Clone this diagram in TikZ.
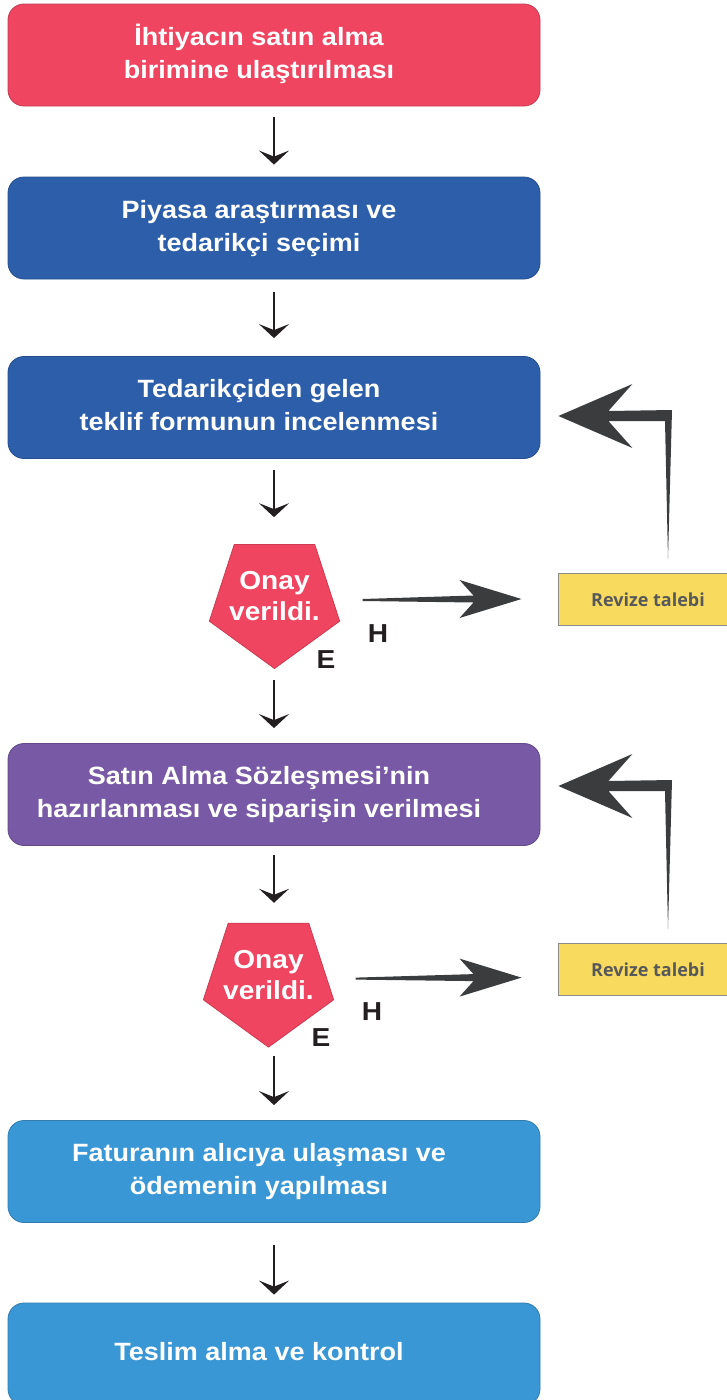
\documentclass[tikz,border=0pt]{standalone}
\usepackage{fontspec}
\setmainfont{Liberation Sans}[FakeStretch=1.08]
\newfontfamily\revfont{Open Sans}
\usetikzlibrary{positioning}
\usetikzlibrary{calc}
\usetikzlibrary{shapes.geometric}
\usetikzlibrary{arrows.meta}
\definecolor{kirmizi}{HTML}{EF4561}
\definecolor{lacivert}{HTML}{2D5EA9}
\definecolor{mor}{HTML}{7759A5}
\definecolor{acikmavi}{HTML}{3A97D5}
\definecolor{sari}{HTML}{F8DA5F}
\definecolor{yazigri}{HTML}{57585A}
\definecolor{koyu}{HTML}{231F20}
\definecolor{okgri}{HTML}{3A3C3E}
\tikzset{kutu/.style={draw=#1!82!black, line width=0.8pt, fill=#1, rounded corners=16pt,
    minimum width=532pt, minimum height=102pt, text=white,
    font=\bfseries\fontsize{25}{33}\selectfont}}
\tikzset{onay/.style={regular polygon, regular polygon sides=5, shape border rotate=180,
    minimum size=137pt, inner sep=0pt, fill=kirmizi, draw=kirmizi!85!black, line width=0.8pt}}
\tikzset{onayyazi/.style={text=white, align=center, inner sep=0pt,
    font=\bfseries\fontsize{26}{31}\selectfont}}
\tikzset{revize/.style={fill=sari, draw=black!45, line width=1pt, minimum width=180pt,
    minimum height=52pt, text=yazigri, font=\revfont\bfseries\fontsize{18}{20}\selectfont}}
\tikzset{harf/.style={text=koyu, font=\bfseries\fontsize{26}{26}\selectfont}}
\tikzset{ok/.style={draw=koyu, line width=2.2pt, -{Stealth[length=14pt,width=30pt,inset=6pt]}}}
% kutu yazisi biraz sola kayik
\newcommand{\yazi}[1]{\hspace*{-30pt}\begin{tabular}{@{}c@{}}#1\end{tabular}}
% kalin yatay ok: #1 baslangic, #2 uc
\newcommand{\yatayok}[2]{%
  \fill[okgri] ($(#1)+(0,-1)$) -- ($(#2)+(-48,-3.5)$) -- ($(#2)+(-62,-19)$) -- (#2)
    -- ($(#2)+(-62,19)$) -- ($(#2)+(-48,3.5)$) -- ($(#1)+(0,1)$) -- cycle;}
% geri donus oku: #1 kose, #2 uc, #3 alt
\newcommand{\geriok}[3]{%
  \fill[okgri] (#2) -- ($(#2)+(74,-32)$) -- ($(#2)+(50,-5)$) -- ($(#1)+(4,-6)$)
    -- (#3) -- ($(#1)+(-3,5)$) -- ($(#2)+(50,5)$) -- ($(#2)+(74,32)$) -- cycle;}

\begin{document}
\begin{tikzpicture}[x=1pt, y=-1pt]
\useasboundingbox (0,0) rectangle (727,1400);

\node[kutu=kirmizi] (ihtiyac) at (274,55) {\yazi{İhtiyacın satın alma\\ birimine ulaştırılması}};
\node[kutu=lacivert] (piyasa) at (274,228) {\yazi{Piyasa araştırması ve\\ tedarikçi seçimi}};
\node[kutu=lacivert] (teklif) at (274,407.5) {\yazi{Tedarikçiden gelen\\ teklif formunun incelenmesi}};
\node[onay] (onay1) at (274.5,600) {};
\node[onayyazi] (onay1y) at ($(onay1.center)+(0,-4)$) {Onay\\verildi.};
\node[kutu=mor] (sozlesme) at (274,794.5) {\yazi{Satın Alma Sözleşmesi’nin\\ hazırlanması ve siparişin verilmesi}};
\node[onay] (onay2) at (268.5,978.6) {};
\node[onayyazi] (onay2y) at ($(onay2.center)+(0,-4)$) {Onay\\verildi.};
\node[kutu=acikmavi] (fatura) at (274,1171.5) {\yazi{Faturanın alıcıya ulaşması ve\\ ödemenin yapılması}};
\node[kutu=acikmavi] (teslim) at (274,1354) {\yazi{Teslim alma ve kontrol}};

\node[revize] (revize1) at (648,599.5) {Revize talebi};
\node[revize] (revize2) at (648,969.5) {Revize talebi};

\node[harf] (h1) at ($(onay1.center)+(103.5,34)$) {H};
\node[harf] (e1) at ($(onay1.center)+(51.5,60)$) {E};
\node[harf] (h2) at ($(onay2.center)+(103.5,33.4)$) {H};
\node[harf] (e2) at ($(onay2.center)+(52.5,59.4)$) {E};

% ana akis
\foreach \a/\b/\s/\t in {ihtiyac/piyasa/11/12, piyasa/teklif/13/18, teklif/onay1/11/27,
    onay1/sozlesme/11/15, sozlesme/onay2/9/20, onay2/fatura/8/15, fatura/teslim/22/8}
  \draw[ok, shorten <=\s pt, shorten >=\t pt] (\a.south -| ihtiyac.south) -- (\b.north -| ihtiyac.south);

% hayir yolu
\coordinate (h1s) at ($(onay1.center)+(88,0)$);
\coordinate (h1t) at ($(h1s -| revize1.west)+(-36,-1)$);
\yatayok{h1s}{h1t}
\coordinate (h2s) at ($(onay2.center)+(87,0)$);
\coordinate (h2t) at ($(h2s -| revize2.west)+(-36,-1)$);
\yatayok{h2s}{h2t}

% revize sonrasi geri donus
\coordinate (k1) at ($(revize1.north)+(20,-157)$);
\coordinate (u1) at ($(k1 -| teklif.east)+(18,0)$);
\coordinate (a1) at ($(revize1.north)+(20,-14)$);
\geriok{k1}{u1}{a1}
\coordinate (k2) at ($(revize2.north)+(20,-157)$);
\coordinate (u2) at ($(k2 -| sozlesme.east)+(18,0)$);
\coordinate (a2) at ($(revize2.north)+(20,-14)$);
\geriok{k2}{u2}{a2}
\end{tikzpicture}
\end{document}
